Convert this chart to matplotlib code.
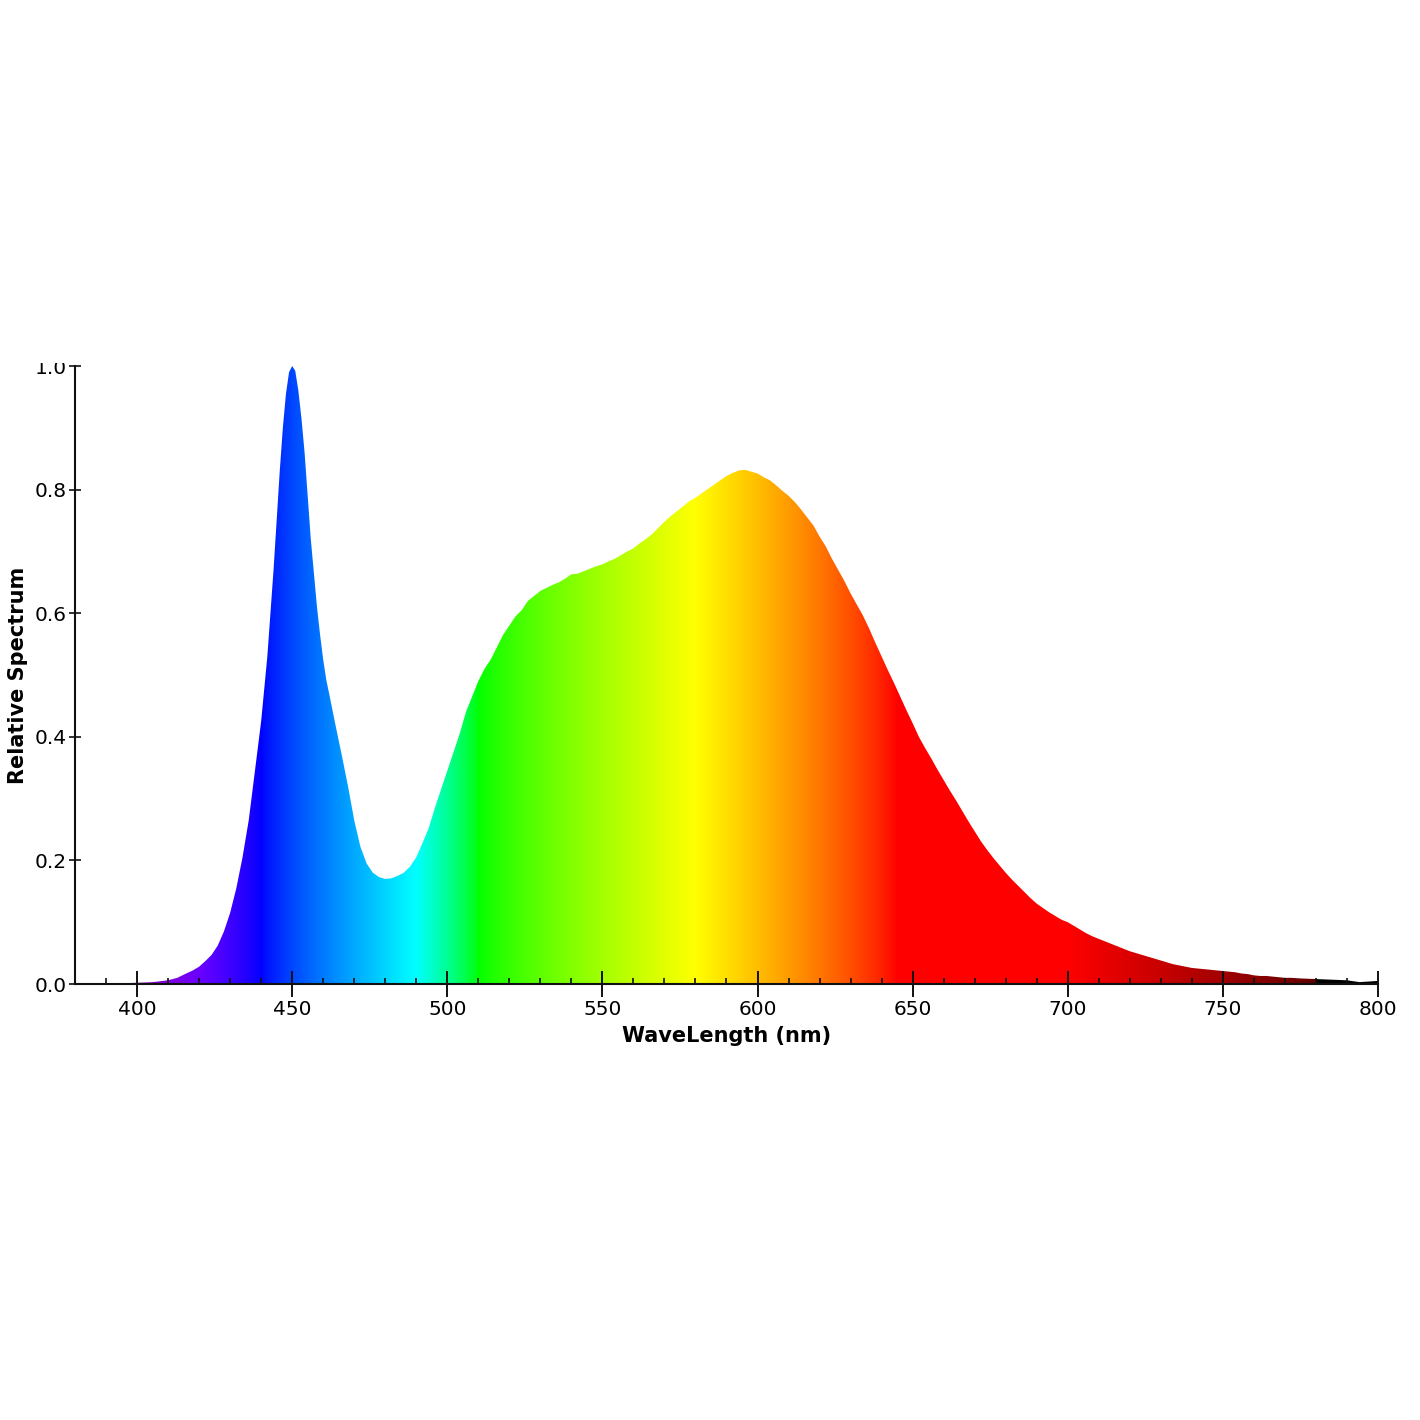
import numpy as np
import matplotlib
matplotlib.use("Agg")
import matplotlib.pyplot as plt
from matplotlib.transforms import Bbox

# ---- data ----
wavelength = [380, 385, 390, 395, 400, 405, 410, 413, 415, 418, 420, 422, 424, 426, 428,
              430, 432, 434, 436, 438, 440, 442, 444, 445, 446, 447, 448, 449, 450, 451,
              452, 453, 454, 455, 456, 457, 458, 459, 460, 461, 462, 464, 466, 468, 470,
              472, 474, 476, 478, 480, 482, 484, 486, 488, 490, 492, 494, 496, 498, 500,
              502, 504, 506, 508, 510, 512, 514, 516, 518, 520, 522, 524, 526, 528, 530,
              532, 534, 536, 538, 540, 542, 544, 546, 548, 550, 552, 554, 556, 558, 560,
              562, 564, 566, 568, 570, 572, 574, 576, 578, 580, 582, 584, 586, 588, 590,
              592, 594, 596, 598, 600, 602, 604, 606, 608, 610, 612, 614, 616, 618, 620,
              622, 624, 626, 628, 630, 632, 634, 636, 638, 640, 642, 644, 646, 648, 650,
              652, 654, 656, 658, 660, 662, 664, 666, 668, 670, 672, 674, 676, 678, 680,
              682, 684, 686, 688, 690, 692, 694, 696, 698, 700, 702, 704, 706, 708, 710,
              712, 714, 716, 718, 720, 722, 724, 726, 728, 730, 732, 734, 736, 738, 740,
              742, 744, 746, 748, 750, 752, 754, 756, 758, 760, 762, 764, 766, 768, 770,
              772, 775, 780, 785, 790, 794, 797, 800]
spectrum = [0.000, 0.001, 0.001, 0.001, 0.002, 0.003, 0.006, 0.010, 0.015, 0.022, 0.028, 0.037, 0.047, 0.062, 0.085,
            0.115, 0.155, 0.205, 0.265, 0.345, 0.425, 0.530, 0.670, 0.750, 0.830, 0.900, 0.955, 0.990, 1.000, 0.992,
            0.960, 0.915, 0.860, 0.790, 0.720, 0.665, 0.610, 0.565, 0.525, 0.492, 0.468, 0.418, 0.370, 0.320, 0.265,
            0.222, 0.195, 0.180, 0.173, 0.170, 0.171, 0.175, 0.180, 0.190, 0.205, 0.228, 0.252, 0.285, 0.315, 0.345,
            0.375, 0.405, 0.440, 0.465, 0.490, 0.510, 0.525, 0.545, 0.565, 0.580, 0.595, 0.605, 0.620, 0.628, 0.636,
            0.641, 0.646, 0.650, 0.656, 0.663, 0.664, 0.668, 0.672, 0.676, 0.679, 0.684, 0.688, 0.694, 0.700, 0.705,
            0.713, 0.720, 0.728, 0.738, 0.748, 0.757, 0.765, 0.773, 0.781, 0.787, 0.794, 0.801, 0.808, 0.815, 0.822,
            0.827, 0.831, 0.832, 0.829, 0.826, 0.820, 0.815, 0.807, 0.798, 0.790, 0.780, 0.768, 0.755, 0.742, 0.724,
            0.708, 0.688, 0.670, 0.652, 0.632, 0.614, 0.596, 0.575, 0.552, 0.530, 0.508, 0.487, 0.465, 0.443, 0.422,
            0.400, 0.382, 0.365, 0.347, 0.330, 0.313, 0.297, 0.280, 0.263, 0.247, 0.231, 0.217, 0.204, 0.192, 0.180,
            0.169, 0.159, 0.149, 0.139, 0.130, 0.123, 0.116, 0.110, 0.104, 0.100, 0.094, 0.088, 0.082, 0.077, 0.073,
            0.069, 0.065, 0.061, 0.057, 0.053, 0.050, 0.047, 0.044, 0.041, 0.038, 0.035, 0.032, 0.030, 0.028, 0.026,
            0.025, 0.024, 0.023, 0.022, 0.021, 0.020, 0.019, 0.017, 0.016, 0.014, 0.013, 0.013, 0.012, 0.011, 0.010,
            0.010, 0.009, 0.008, 0.007, 0.006, 0.003, 0.004, 0.005]
x_major_ticks = [400, 450, 500, 550, 600, 650, 700, 750, 800]
y_ticks = [0.0, 0.2, 0.4, 0.6, 0.8, 1.0]
y_tick_labels = ["0.0", "0.2", "0.4", "0.6", "0.8", "1.0"]
x_label = "WaveLength (nm)"
y_label = "Relative Spectrum"


def wavelength_to_rgb(w, gamma=0.8):
    if 380 <= w < 440:
        r, g, b = -(w - 440) / 60.0, 0.0, 1.0
    elif 440 <= w < 490:
        r, g, b = 0.0, (w - 440) / 50.0, 1.0
    elif 490 <= w < 510:
        r, g, b = 0.0, 1.0, -(w - 510) / 20.0
    elif 510 <= w < 580:
        r, g, b = (w - 510) / 70.0, 1.0, 0.0
    elif 580 <= w < 645:
        r, g, b = 1.0, -(w - 645) / 65.0, 0.0
    elif 645 <= w <= 780:
        r, g, b = 1.0, 0.0, 0.0
    else:
        r, g, b = 0.0, 0.0, 0.0
    if 380 <= w < 420:
        f = 0.3 + 0.7 * (w - 380) / 40.0
    elif 420 <= w < 701:
        f = 1.0
    elif 701 <= w <= 780:
        f = 0.3 + 0.7 * (780 - w) / 80.0
    else:
        f = 0.0
    return [(c * f) ** gamma if c > 0 else 0.0 for c in (r, g, b)]


fig = plt.figure(figsize=(14.2, 14.2), dpi=100)
ax = fig.add_axes([75 / 1420, 1 - 984 / 1420, (1378 - 75) / 1420, (984 - 366) / 1420])

xs = np.array(wavelength, dtype=float)
ys = np.array(spectrum, dtype=float)

grid_w = np.linspace(380, 800, 1400)
grad = np.array([[wavelength_to_rgb(w) for w in grid_w]])
im = ax.imshow(grad, extent=[380, 800, 0, 1.0], aspect="auto", origin="lower",
               interpolation="bilinear", zorder=1)
poly = ax.fill_between(xs, ys, 0, facecolor="none", edgecolor="none", zorder=0)
im.set_clip_path(poly.get_paths()[0], transform=ax.transData)

ax.set_xlim(380, 800)
ax.set_ylim(0, 1.0)

for s in ["top", "right"]:
    ax.spines[s].set_visible(False)
for s in ["left", "bottom"]:
    ax.spines[s].set_linewidth(1.5)
    ax.spines[s].set_color("#111111")
    ax.spines[s].set_zorder(3)

ax.set_xticks(x_major_ticks)
ax.set_xticks(np.arange(380, 801, 10), minor=True)
ax.set_yticks(y_ticks)
ax.set_yticklabels(y_tick_labels)
ax.tick_params(axis="x", which="major", direction="inout", length=19, width=1.4,
               labelsize=14.5, pad=2, colors="#111111")
ax.tick_params(axis="x", which="minor", direction="in", length=4.5, width=1.2, colors="#111111")
ax.tick_params(axis="y", which="major", direction="inout", length=8, width=1.2,
               labelsize=14.5, pad=2, colors="#111111")
for lab in ax.get_xticklabels() + ax.get_yticklabels():
    lab.set_color("black")

ax.set_xlabel(x_label, fontsize=15, fontweight="bold")
ax.xaxis.set_label_coords(0.5, -0.068)
ax.xaxis.label.set_verticalalignment("top")
ax.set_ylabel(y_label, fontsize=15, fontweight="bold")
ax.yaxis.set_label_coords(-0.036, 0.5)

# the reference crops the top of the "1.0" label at the plot's upper edge
clip = Bbox([[0, 0], [1420, 1420 - 363]])
fig.canvas.draw()
for t in ax.yaxis.get_major_ticks():
    t.label1.set_clip_box(clip)
    t.label1.set_clip_on(True)

fig.savefig("out.png", dpi=100, facecolor="white")
